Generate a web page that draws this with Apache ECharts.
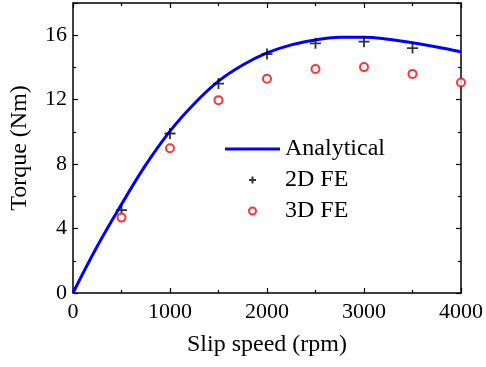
<!DOCTYPE html>
<html>
<head>
<meta charset="utf-8">
<script src="https://cdn.jsdelivr.net/npm/echarts@6/dist/echarts.min.js"></script>
<style>
  html, body { margin: 0; padding: 0; background: #fff; }
  #chart { width: 486px; height: 367px; }
</style>
</head>
<body>
<div id="chart"></div>
<script>
  // analytical curve
  const curveSpeed = [0, 250, 500, 750, 1000, 1250, 1500, 1750, 2000, 2250, 2500, 2750, 3000, 3250, 3500, 3750, 4000]
  const curveTorque = [0, 2.9, 5.5, 7.95, 10.05, 11.75, 13.15, 14.15, 14.9, 15.4, 15.7, 15.88, 15.88, 15.75, 15.53, 15.27, 14.97]

  const feSpeed = [500, 1000, 1500, 2000, 2500, 3000, 3500, 4000]
  const fe2d = [5.14, 9.9, 13.0, 14.83, 15.5, 15.6, 15.2]
  const fe3d = [4.68, 8.99, 11.97, 13.3, 13.9, 14.02, 13.6, 13.07]

  const fontFam = '"Liberation Serif", "Times New Roman", serif'
  const black = '#000'

  const pairs = (xs, ys) => ys.map((y, i) => [xs[i], y])

  const myChart = echarts.init(document.getElementById('chart'))

  const axisBase = {
    axisLine: { show: true, onZero: false, lineStyle: { color: black, width: 1.5 } },
    axisTick: { show: true, inside: true, length: 5, lineStyle: { color: black, width: 1.2 } },
    minorTick: { show: true, splitNumber: 2, length: 3, lineStyle: { color: black, width: 1.2 } },
    splitLine: { show: false },
  }

  const option = {
    animation: false,
    grid: { left: 69, right: 24, top: 3, bottom: 74 },
    legend: {
      orient: 'vertical',
      left: 220,
      top: 132,
      itemWidth: 55,
      itemHeight: 7,
      itemGap: 7,
      data: [
        { name: 'Analytical', icon: 'path://M0,0L55,0L55,3L0,3Z' },
        '2D FE',
        '3D FE',
      ],
      textStyle: { fontFamily: fontFam, fontSize: 24, color: black, padding: [0, 0, 0, 0] },
    },
    xAxis: [
      {
        ...axisBase,
        type: 'value',
        min: 0,
        max: 4000,
        interval: 1000,
        name: 'Slip speed (rpm)',
        nameLocation: 'middle',
        nameGap: 40,
        nameTextStyle: { fontFamily: fontFam, fontSize: 24, color: black },
        axisLabel: { fontFamily: fontFam, fontSize: 22, color: black, margin: 8, formatter: v => String(v) },
      },
      {
        ...axisBase,
        type: 'value',
        position: 'top',
        min: 0,
        max: 4000,
        interval: 1000,
        axisLabel: { show: false },
      },
    ],
    yAxis: [
      {
        ...axisBase,
        type: 'value',
        min: 0,
        max: 18,
        interval: 4,
        name: 'Torque (Nm)',
        nameLocation: 'middle',
        nameGap: 41,
        nameTextStyle: { fontFamily: fontFam, fontSize: 24, color: black },
        axisLabel: { fontFamily: fontFam, fontSize: 22, color: black, margin: 6, showMaxLabel: false },
      },
      {
        ...axisBase,
        type: 'value',
        position: 'right',
        min: 0,
        max: 18,
        interval: 4,
        axisLabel: { show: false },
      },
    ],
    series: [
      {
        name: 'Analytical',
        type: 'line',
        smooth: 0.4,
        showSymbol: false,
        symbol: 'none',
        lineStyle: { color: '#0000ff', width: 3 },
        itemStyle: { color: '#0000ff' },
        data: pairs(curveSpeed, curveTorque),
        z: 2,
      },
      {
        name: '2D FE',
        type: 'scatter',
        symbol: 'path://M0,5L10,5M5,0L5,10',
        symbolSize: 11,
        itemStyle: { color: 'rgba(0,0,0,0)', borderColor: black, borderWidth: 1.8 },
        data: pairs(feSpeed, fe2d),
        z: 3,
      },
      {
        name: '3D FE',
        type: 'scatter',
        symbol: 'emptyCircle',
        symbolSize: 8,
        itemStyle: { color: '#ff0000', borderColor: '#ff0000', borderWidth: 1.5 },
        data: pairs(feSpeed, fe3d),
        z: 3,
      },
    ],
  }

  myChart.setOption(option)
</script>
</body>
</html>
